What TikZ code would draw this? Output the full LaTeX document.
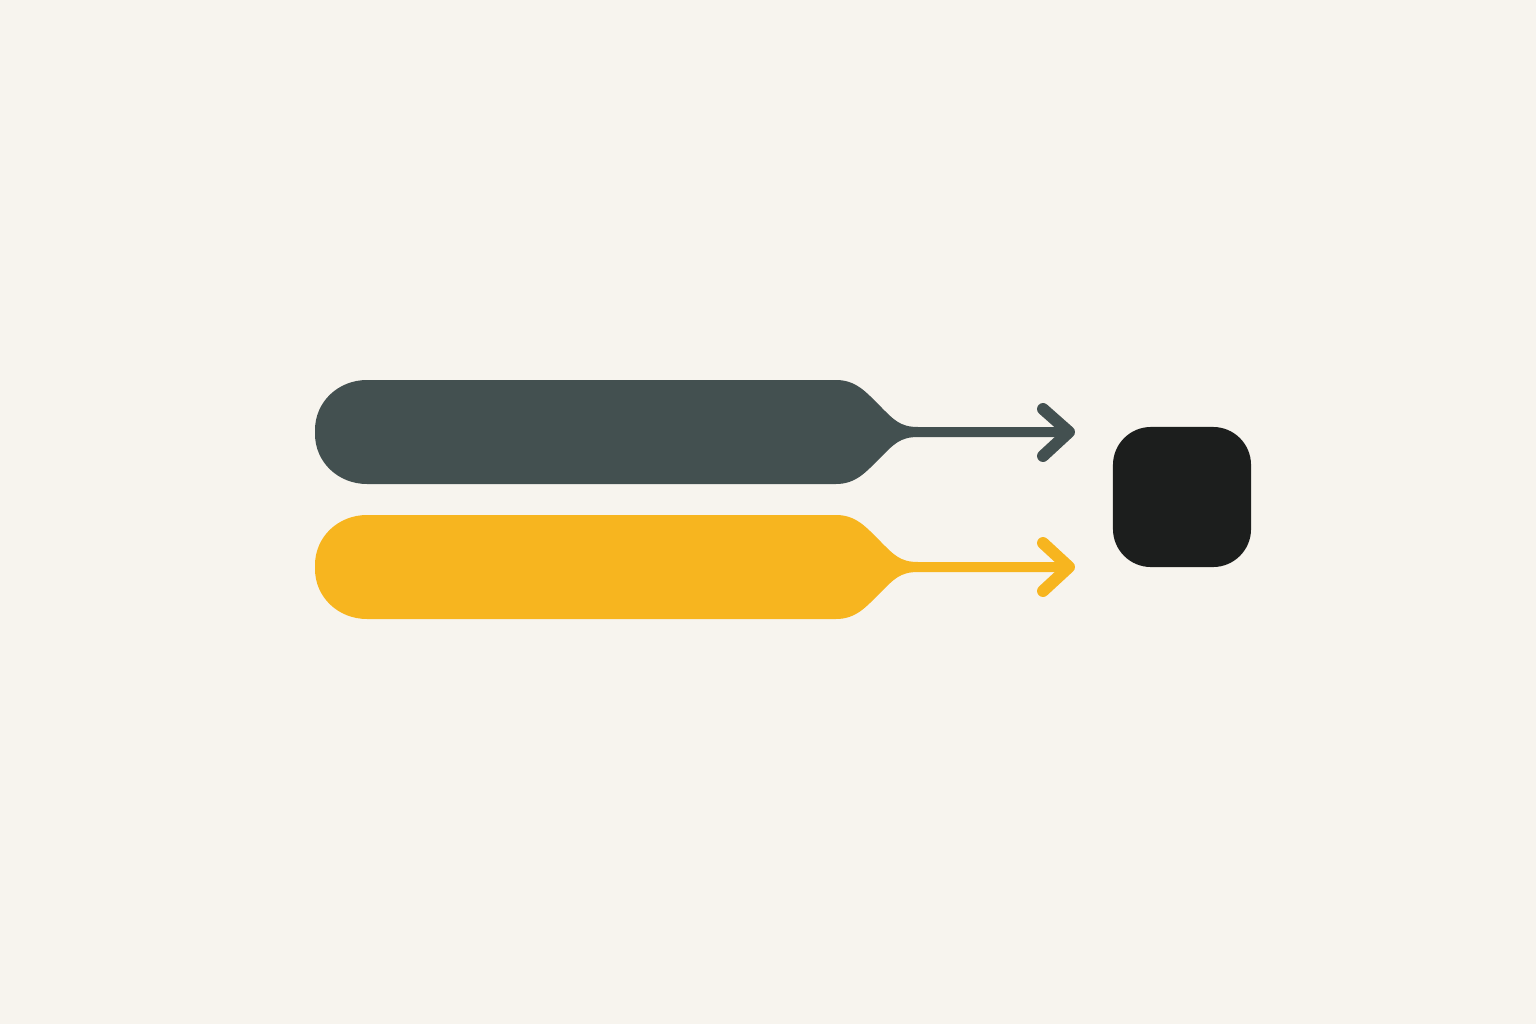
\documentclass[tikz,border=0pt]{standalone}
\usepackage{tikz}
\usetikzlibrary{positioning}
\definecolor{paper}{HTML}{F7F4EE}
\definecolor{slate}{HTML}{435050}
\definecolor{amber}{HTML}{F7B51F}
\definecolor{ink}{HTML}{1C1E1D}
\tikzset{
  chevron/.style={line width=3.4pt, line cap=round, line join=round},
  target/.style={fill=ink, rounded corners=0.38cm, minimum width=1.38cm, minimum height=1.4cm, inner sep=0pt}
}
% paddle shape (with its stem) around a centre height #1
\newcommand\paddlepath[1]{(367,#1-52) -- (836,#1-52)
  .. controls (856,#1-52) and (866,#1-40) .. (880,#1-26)
  .. controls (894,#1-12) and (900,#1-5) .. (918,#1-5) -- (1062,#1-5)
  -- (1062,#1+5) -- (918,#1+5)
  .. controls (900,#1+5) and (894,#1+12) .. (880,#1+26)
  .. controls (866,#1+40) and (856,#1+52) .. (836,#1+52) -- (367,#1+52)
  .. controls (338,#1+52) and (315,#1+30) .. (315,#1+2) -- (315,#1-2)
  .. controls (315,#1-30) and (338,#1-52) .. (367,#1-52) -- cycle}
\begin{document}
\begin{tikzpicture}[x=0.01cm, y=-0.01cm]
  \fill[paper] (0,0) rectangle (1536,1024);
  \useasboundingbox (0,0) rectangle (1536,1024);
  % upper paddle
  \fill[slate] \paddlepath{432};
  \coordinate (tipA) at (1069,432);
  \draw[chevron, slate] (1043,409) -- (tipA) -- (1043,456);
  % lower paddle
  \fill[amber] \paddlepath{567};
  \coordinate (tipB) at (1069,567);
  \draw[chevron, amber] (1043,543) -- (tipB) -- (1043,591);
  \node (box) [target] at (1182,497) {};
\end{tikzpicture}
\end{document}
